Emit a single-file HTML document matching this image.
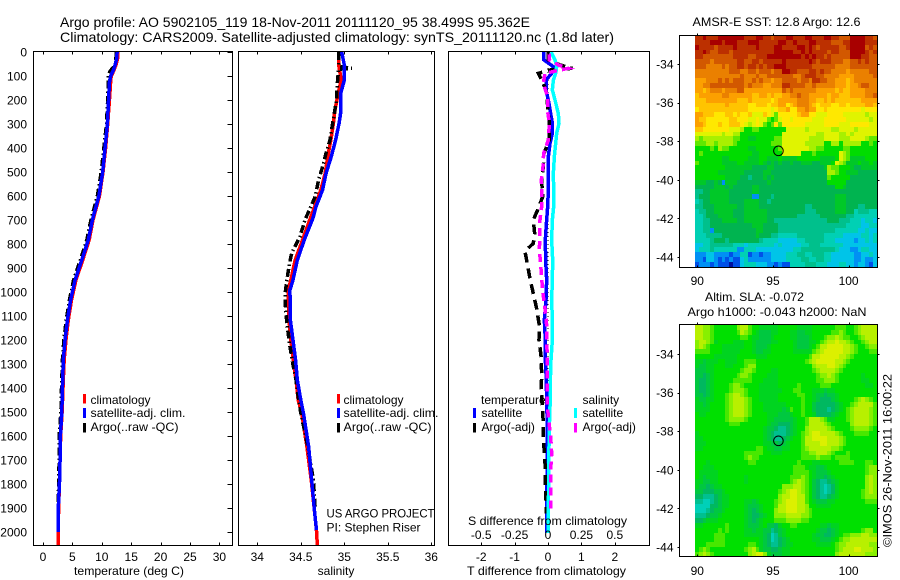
<!DOCTYPE html>
<html lang="en">
<head>
<meta charset="utf-8">
<title>Argo profile 5902105_119</title>
<style>
html,body{margin:0;padding:0;background:#fff;}
svg{display:block;font-family:"Liberation Sans",sans-serif;fill:#000;}
text{font-size:12px;}
.t14{font-size:14px;}
</style>
</head>
<body>
<svg id="fig" width="900" height="580" viewBox="0 0 900 580" xmlns="http://www.w3.org/2000/svg">
  <rect x="0" y="0" width="900" height="580" fill="#fff"/>
  <text class="t14" x="60" y="27" textLength="470" lengthAdjust="spacingAndGlyphs">Argo profile: AO 5902105_119 18-Nov-2011 20111120_95 38.499S 95.362E</text>
  <text class="t14" x="60" y="42" textLength="554" lengthAdjust="spacingAndGlyphs">Climatology: CARS2009. Satellite-adjusted climatology: synTS_20111120.nc (1.8d later)</text>

  <g id="map1"></g>
  <g id="map2"></g>
  <g id="panel1"></g>
  <g id="panel2"></g>
  <g id="panel3"></g>
  <g id="axes"></g>

  <text x="129" y="575" text-anchor="middle" textLength="110" lengthAdjust="spacingAndGlyphs">temperature (deg C)</text>
  <text x="336" y="575" text-anchor="middle">salinity</text>
  <text x="467" y="575" textLength="159" lengthAdjust="spacingAndGlyphs">T difference from climatology</text>
  <text x="468" y="525" textLength="159" lengthAdjust="spacingAndGlyphs">S difference from climatology</text>

  <g>
    <rect x="83" y="394" width="3" height="9.5" fill="#f00"/>
    <text x="90.5" y="404">climatology</text>
    <rect x="83" y="408" width="3" height="10" fill="#00f"/>
    <text x="90.5" y="417" textLength="95" lengthAdjust="spacingAndGlyphs">satellite-adj. clim.</text>
    <rect x="83" y="423" width="3" height="9.5" fill="#000"/>
    <text x="90.5" y="431" textLength="88" lengthAdjust="spacingAndGlyphs">Argo(..raw -QC)</text>
  </g>
  <g>
    <rect x="337" y="394" width="3" height="9.5" fill="#f00"/>
    <text x="343.5" y="404">climatology</text>
    <rect x="337" y="408" width="3" height="10" fill="#00f"/>
    <text x="343.5" y="417" textLength="95" lengthAdjust="spacingAndGlyphs">satellite-adj. clim.</text>
    <rect x="337" y="423" width="3" height="9.5" fill="#000"/>
    <text x="343.5" y="431" textLength="88" lengthAdjust="spacingAndGlyphs">Argo(..raw -QC)</text>
  </g>
  <text x="326.5" y="517.5" textLength="108" lengthAdjust="spacingAndGlyphs">US ARGO PROJECT</text>
  <text x="326.5" y="531.5">PI: Stephen Riser</text>

  <g>
    <text x="481" y="404">temperature</text>
    <rect x="473" y="408" width="3" height="10" fill="#00f"/>
    <text x="481.5" y="417">satellite</text>
    <rect x="473" y="423" width="3" height="9.5" fill="#000"/>
    <text x="481.5" y="431">Argo(-adj)</text>
    <text x="582.5" y="404">salinity</text>
    <rect x="574" y="408" width="3" height="10" fill="#0ff"/>
    <text x="582.5" y="417">satellite</text>
    <rect x="574" y="423" width="3" height="9.5" fill="#f0f"/>
    <text x="582.5" y="431">Argo(-adj)</text>
  </g>

  <text x="692.5" y="26" textLength="168" lengthAdjust="spacingAndGlyphs">AMSR-E SST: 12.8 Argo: 12.6</text>
  <text x="705" y="301" textLength="99" lengthAdjust="spacingAndGlyphs">Altim. SLA: -0.072</text>
  <text x="687.5" y="316" textLength="179" lengthAdjust="spacingAndGlyphs">Argo h1000: -0.043 h2000: NaN</text>
  <text transform="translate(891.5,547) rotate(-90)" textLength="173" lengthAdjust="spacingAndGlyphs">©IMOS 26-Nov-2011 16:00:22</text>
</svg>

<script>
// ---------- Chart data ----------
const depthTicks = [0,100,200,300,400,500,600,700,800,900,1000,1100,1200,1300,1400,1500,1600,1700,1800,1900,2000];
const tempTicks = [0,5,10,15,20,25,30];
const salTicks = [34,34.5,35,35.5,36];
const salTickLabels = ['34','34.5','35','35.5','36'];
const tDiffTicks = [-2,-1,0,1,2];
const sDiffTicks = [-0.5,-0.25,0,0.25,0.5];
const sDiffTickLabels = ['-0.5','-0.25','0','0.25','0.5'];
const lonTicks = [90,95,100];
const latTicks = [-34,-36,-38,-40,-42,-44];

const tempDepths = [0,25,54,80,100,125,200,300,400,500,600,700,783,867,950,1033,1117,1200,1283,1367,1400,1500,1600,1700,1800,1900,2000];
const tempSatellite = [12.6,12.55,12.25,11.9,11.5,11.3,11.15,10.95,10.55,10.15,9.5,8.4,7.7,6.6,5.45,4.7,4.15,3.75,3.45,3.35,3.3,3.2,2.95,2.9,2.8,2.6,2.6];
const tempArgo = [12.5,12.4,12.3,11.4,11.1,11.1,11.0,10.8,10.35,9.9,9.25,8.15,7.45,6.35,5.2,4.5,3.95,3.55,3.3,3.2,3.15,3.05,2.75,2.75,2.65,2.6,2.6];
const tempClimDepths = [0,25,54,80,100,125,200,300,400,500,600,700,783,867,950,1033,1117,1200,1283,1367,1400,1500,1600,1700,1800,1900,2000,2054];
const tempClim = [12.75,12.7,12.4,12.0,11.6,11.5,11.3,11.0,10.65,10.2,9.6,8.5,7.85,6.75,5.6,4.85,4.3,3.9,3.6,3.45,3.4,3.25,3.0,2.9,2.8,2.65,2.6,2.6];

const salDepths = [0,54,117,171,249,297,367,436,506,575,644,692,783,867,950,992,1117,1200,1283,1367,1450,1504,1644,1783,1922,1992];
const salSatellite = [34.97,35.0,35.0,34.96,34.96,34.94,34.9,34.85,34.79,34.75,34.675,34.64,34.54,34.46,34.41,34.375,34.38,34.41,34.44,34.46,34.5,34.53,34.59,34.625,34.66,34.68];
const salClimDepths = [0,54,117,171,249,297,367,436,506,575,644,692,783,867,950,992,1117,1200,1283,1367,1450,1504,1644,1783,1922,1992,2054];
const salClim = [34.94,34.935,34.965,34.93,34.89,34.875,34.845,34.81,34.78,34.73,34.66,34.61,34.52,34.435,34.385,34.355,34.365,34.385,34.415,34.445,34.47,34.51,34.57,34.62,34.66,34.68,34.69];
const salArgoDepths = [0,60,68,72,89,131,200,256,311,367,422,478,533,603,658,693,769,839,881,950,1006,1075,1144,1214,1283,1367,1436,1504,1644,1783,1900];
const salArgo = [34.935,34.94,35.085,34.93,34.93,34.92,34.91,34.885,34.86,34.835,34.79,34.75,34.705,34.665,34.6,34.555,34.49,34.395,34.37,34.34,34.32,34.325,34.345,34.37,34.4,34.445,34.47,34.5,34.58,34.645,34.665];

const diffDepths = [0,33,61,89,117,158,200,256,297,339,381,436,506,575,644,700,783,867,950,1033,1117,1200,1283,1367,1450,1506,1644,1783,1922,2005];
const tDiffSatellite = [-0.12,-0.12,0.16,0.11,-0.06,-0.06,0.01,0.08,0.13,0.13,0.06,0.01,0.01,0.01,-0.01,-0.04,-0.08,-0.07,-0.04,-0.06,-0.11,-0.08,-0.08,-0.05,-0.04,-0.03,-0.02,-0.03,-0.04,-0.04];
const sDiffSatellite = [0.0225,0.0525,0.065,0.0575,0.04,0.0325,0.0525,0.0775,0.0825,0.065,0.0575,0.0475,0.04,0.0425,0.0425,0.0325,0.0275,0.035,0.0325,0.0275,0.0325,0.0325,0.0225,0.0175,0.0175,0.0125,0.0075,0.005,0.0025,0];
const tDiffArgoDepths = [0,33,54,68,75,89,131,172,228,297,367,422,478,533,603,658,700,756,797,831,881,944,1006,1069,1139,1200,1264,1340,1403,1547,1603,1672,1734,1797,1867,1922];
const tDiffArgo = [0.01,0.01,0.36,0.73,0.06,-0.29,-0.14,-0.04,-0.01,0.04,0.04,-0.12,-0.14,-0.19,-0.16,-0.31,-0.44,-0.40,-0.44,-0.69,-0.62,-0.54,-0.44,-0.34,-0.26,-0.27,-0.21,-0.19,-0.2,-0.14,-0.14,-0.11,-0.08,-0.08,-0.06,-0.06];
const sDiffArgoDepths = [6,33,54,68,78,89,131,186,249,297,367,422,478,533,589,644,700,756,825,881,944,1006,1069,1139,1208,1271,1340,1410,1464,1520,1603,1672,1741,1811,1873,1922];
const sDiffArgo = [0.01,0.01,0.0775,0.1525,0.065,-0.0225,-0.035,-0.0025,-0.0025,0.01,0.0025,-0.0325,-0.0375,-0.05,-0.045,-0.0475,-0.06,-0.06,-0.065,-0.055,-0.0475,-0.0375,-0.0225,-0.01,-0.01,-0.005,-0.005,-0.005,-0.005,0.0025,0.02,0.0275,0.02,0.02,0.02,0.02];

const profileLat = -38.499;
const profileLon = 95.362;

const sstColors = {a:'#a80000',b:'#bc3000',c:'#d25800',d:'#ea8000',e:'#fca000',f:'#ffc400',g:'#ffe800',h:'#e0f400',i:'#a8f000',j:'#60e800',k:'#00dc00',l:'#00c828',m:'#00b450',n:'#00c08c',o:'#00d0b4',p:'#00c4e8',q:'#0090f4',r:'#0050e8',s:'#0010a0'};
const sstRows = [
"bbabbbaa aaaaabbb aabbcbbb aabbbaab bbaabbcc caaaabbc",
"bbbbaaab aaabbbaa abbbbbaa bbabbbaa bbbbcccb baaaabbb",
"abbbbcbb bbabbbbb abbbbaab bbbaabab cbbbbbcc baaaacbc",
"bbabccbb bcbbbbbb bbbbbaaa aabbabab bbbcbbcc caaaabcb",
"bbcccccc ccbbbbcc bbbaaaaa aaaababa bbcbcccc caaabbcc",
"ccccdccc cccbbccb bcbbbbba bbbbbbab cbbbcccd dccbcbcc",
"cccddddc dccbbcbb cbcbbaaa bbbbbbbc cccccddd dccccccc",
"dddddddd dcccddcc dcccdcca abbcccbb cbccdddd edddddcc",
"dddddddd ddddcddd cddccccc ccddcbbb ccddddee eedddddc",
"eeedddcd cdcccddc dcddeddc cccdccdb bccddeee fedddddd",
"eeddcccc cccccdcd ddeedddb bccccddc dddddeee feedccdd",
"eefeddde dddcceee eeeeeeec dcdddddd eeeeefef feeeeddd",
"feeeeeed deeeeeef feefeffe eddcddee eeefeeff feeeeddc",
"fffeeeee eeefffef ffffgfee eeedddee ffefefff ffffeeee",
"ffffffff efffffgg fffgffee gfedddef gfffggff gffffeef",
"gfffffff ffffffgg gggghgff eggeedee ggfggggg gggghggg",
"eefffggg ffgfggfh hhfghjgg gggfeegg hhhggggh hhhhhihh",
"effggggg gffggghh ghhjkjhg ghgggggh hhgggggg hhhhhhih",
"eefgggfg gfffghih ghjkjgjg ggggghhh hhgggghh hggggghh",
"ffgggggg ghhhikkj jkkkkkkk hhhhhihh hhhhiihh hhihhhhh",
"hhhhhhhi hhiikkkk kkkkkkkh hhhhhhhh iihhhhii hihhhhhh",
"ijiiiiii iijjkkll kkkkkjjh hhhhhhii iihhhhii ihhhhijj",
"jjjiijii iijkkkkk kkkkjjjh hhhhhiii iikkiiki iiiikkjk",
"kkkkjkij jkkkkkll kkkkkkjh hhhhhhii jjkkkkkj jkkkkkkk",
"kjkkkkkk kkkkkkkl lkkkkkkh hhhhkkkj kkkkkkhi jkkkkkkk",
"kkkkkkkl lkkkkkll lkklllkl lllkkkkk kllllkhi jllllkkk",
"jkkkkkkl lllkklll lklmlmlm mlmmlllm mlllkhij lllkllkl",
"kkkkkkkk lllllllm mmmllmmm mmmmmmmm mmlijjkk klmmllll",
"kkkkkkll lllllmmm mmllmmmm mmmmmmmm mmmiijkk lllmmmmm",
"kkkkkkkk llllmmnm mmlmlmmm mmmmmmmm mmmjkkkk kmmmmmmm",
"lllmmlmq lllmmmmm mmmlmmmm mmmmmmmm mmmkkkkk mmmmmmmm",
"mmmmmlll mlmmmmml lmmmmmmm mmmmmmmm mmmmmkkl mmmmmmmm",
"nnmmllll lmmmmmml lmmmmmmm mmmmmmmm mmmmmmmm mmmmmmmm",
"nmmmllll lmmmmmmq qmmmnmmm mmmmmmmm mmmmmlll mmmmmmmm",
"onmmllll lmmmmlll lmmnmmmm mmmmmmmm mmmmmlll mmmmmmmm",
"nnmmmlll lllmmlll lmmmmmmm mmmmmnnm mmmmmlll mmmnnmmm",
"onnmmlll llmmmlll lllmmmmm mmmmmnnn mmmmmlll mmonnnoo",
"oonmmmll llmmmlll lllmmmmm mmmnnnnn nmmmmmmm nnoooooo",
"oonnmmml lllmmlll lllmmnnn nnnnnnnn nnnmmmnn nooopoop",
"oonnmmmm mmmmmmml llmmmmnn nnnnnnnn nnnnnnnn ooooppoo",
"oonnqmmm mmmmmmmm llmmmmnn nnnnnnnn nnnnnooo oooppopp",
"ooonnnnm mmmmmmmm lmmmnnoo ooonnnnn nnooooop ppppoopo",
"oooonmmm nmmmmmmm mnoooopp pppoonnn nnoooppp ppqppopo",
"ppoonnnn nnooopoo ooooopop ppppoonn noooooop pppppppp",
"pooonooo oooqqooo pppppppp ppoonnnn nnnnnopp pqqpoopp",
"qqqppqqq qrqqoorq qrqqpppp ooonnoon nnoopppp ppqqppop",
"qqrppqrq rqrrpoqq qqqqpppp oooonnoo nnoopppp ppqqpqqp",
"rqqqrqrr rsrrpooo pppqqrqr roooonnn ooopppoo ppqppqrp"
];

const slaColors = {a:'#dcf000',b:'#b8f000',c:'#88f000',d:'#48e800',e:'#00e000',f:'#00d420',g:'#00c840',h:'#00b860',i:'#00c090',j:'#00d0b8'};
const slaRows = [
"bbccdeee eeecbbde efffffee eeeffffe eeeeeddd eedcbbbb",
"bbccdeee eeedbcde fgggffee effggffe eeeeddcd eedcbbbb",
"bbccdeee eeeeddef fgggfeee effgggfe eedccbcd deedcbbb",
"cbbcdfee eefffeef ggggffee eefgggff edcbbabb cdeedcbb",
"cbcdeeef fffffeef gggfeeee eefgggfe dbbaaaab bcdeedcc",
"ddddeeef ffffeeef ggffeeee eefffffd cbaaaaab bcdeeedd",
"eeeeefff fffeeeee fffeeeee eeeeeedb baaaaabb cdeeeeee",
"ffgfffee fffeeddd eeeeeeee eeeeedcb aaaaabbc deeeeeee",
"fggffeee ffeeedcc eeeeeeee eeeeeeec bbbaabcd eeeeeeee",
"gggffeee eeeedccd eeeeffee eeeeeeed cbbbbcde eeeeeeee",
"gghgfeee eeedccde eeefffee eeeeeeee dccbcdee eeeefeee",
"ghhgfeee eeddddde eeffffee eeeeeeee ddcccdee eeeeffee",
"ghhgfeee edccdeee efffffee eeedeeee edddeeee eeeeeffe",
"ghhgfeee edcccdee effffffe eeddeeef ffgffeee eeeeeeee",
"gghgfeee dcbbcdee efffffee eeeddeef gghggfee eeeeeeee",
"fggffeee dcbbbcde efffffee eeeedeef ghhhgfee eedcbcde",
"ffgfeeee dcbbbcde eeffffff eeeedeeg hhhhhgfe edcbbbbd",
"ffffeeee dcbbbcde eefffffg fdeedeeg hhhihgfe dcbbbbcd",
"effeeeee dcbbbcde eeefffgg gfeedeef hhhhgfee dcbbbbcd",
"eeeeeeee dccccdee eeeffggg ggfeedbb bcdffeee dcbbbbcd",
"eeeeeeee edddeeee eeefgghh hgfeedbb bbcdeeee ecbbbbcd",
"eeeeeeee eeeeeeee eefgghii hgfeecbb bbbcdeee edccccde",
"feeeeeee eeeeeeee eefghiii hgfedcba abbbbcde eeddddee",
"ffeeeeee eeeeeeee eefghiih gfeedbba aaabbbcd eeeeeeee",
"fffeeeee eeeeeeee eeffgghg feeedbbb baabbbcd eeeeeeee",
"ffeeeeee eeeeeeee ddeffggf feeedcbb bbbbccde eeeeeeee",
"eeeeeeee eeeeeddd ddeefffe eeeeddcc bbbcdeee deeeeeee",
"eeeeeeee eeeeedcd deeeeeee eeeedddd cdddeddd deeeeeee",
"eeefeeee eeeeeedd eeeeeeee eeedeeef feeeeedd ddeeedde",
"eefffeee eeeeeeee eeeeeeee eedddeff ggfeeeee eeeeedcc",
"efffffee eeeeeeee eeeeeeee eeddddef gggfeeee eeeeedcc",
"efgfffee eeeeefee eeeeeeee edddcdef gghgfeee eeeeecbc",
"ffggffee eeeeefee eeeeeeee edcbcdeg hiihgfee eeeeecbc",
"fgghgffe eeeeeeee eeeeeeec ccbbcdeg hijihfee eeeeecbc",
"gghhhggf eeeeeeee eeeeeedc baabcdeg hijihfee eeeedcbc",
"hhiiihgf feeeeeee eeeeeecb baabbdeg hiihgfee eeeedccc",
"iijjihgf feeeeffg feeeedcb aaabbdef gggffeee eeeeeddd",
"jjjjhhgf feeeefgg gfeeedbb aaabbcee ffffeeee eeeeeeee",
"jjjihggf eeeeefgh gfeeecbb aaabbcde eeeeeeee eeeeeeee",
"iiihggfe eeeeefgh hgfeeccc bbbbccde eeeeeeee eeeeeeee",
"hhgfffee eeeeefgh gfeeeddd ccccddee eeeeeeee eeeeeeee",
"ffeeeeee deeeefgg gfegghfe eddeeeee effgffee eeeeeeee",
"eeeeeede deeeeffg ffggihgf eeeeeeee fgghgfee eeeedcce",
"eeeeeddd eeeeefff ffghjigf eeeeeeef gghhgfed dcccbbcc",
"eeeeeddd eeeeeeee efghjihg feeeeeef fgggfedc cbbbbbbb",
"eeeddddd eeeeeedd efghiihg ffeeeeee ffffedcc bbbbbbcc",
"edcdeeee eeeeedcb dfgghhgf feeeeeee eeeeedcb bbaabbbc",
"dcbcdeee eeeeeecb aacfgggf feeeeeee eeeeecbb bbbbbccc"
];

// ---------- Axis functions ----------
const NS = 'http://www.w3.org/2000/svg';
function yDepth(d){ return 52 + d * 0.24; }
function xTemp(t){ return 43 + t * 5.88; }
function xSal(s){ return 257.3 + (s - 34) * 87; }
function xDiffT(v){ return 548 + v * 33.4; }
function xDiffS(v){ return 548 + v * 4 * 33.4; }
function xLon(lon){ return 697.3 + (lon - 90) * 15.13; }
function yLat1(lat){ return 64 + (-34 - lat) * 19.3; }
function yLat2(lat){ return 354 + (-34 - lat) * 19.3; }

function make(tag, parent){
  const el = document.createElementNS(NS, tag);
  parent.appendChild(el);
  return el;
}
function drawLine(parent, name, xs, ds, xFn, color, width, dash){
  const el = make('polyline', parent);
  
  
  el.setAttribute('points', xs.map(function(v, i){ return xFn(v).toFixed(2) + ',' + yDepth(ds[i]).toFixed(2); }).join(' '));
  el.setAttribute('fill', 'none');
  el.setAttribute('stroke', color);
  el.setAttribute('stroke-width', width);
  el.setAttribute('shape-rendering', 'crispEdges');
  if (dash) el.setAttribute('stroke-dasharray', dash);
}
function drawSeg(parent, name, x1, y1, x2, y2){
  const el = make('line', parent);
  
  
  el.setAttribute('x1', x1);
  el.setAttribute('y1', y1);
  el.setAttribute('x2', x2);
  el.setAttribute('y2', y2);
  el.setAttribute('stroke', '#000');
  el.setAttribute('stroke-width', 1);
  el.setAttribute('shape-rendering', 'crispEdges');
}
function drawLabel(parent, name, x, y, str, anchor){
  const el = make('text', parent);
  
  
  el.setAttribute('x', x);
  el.setAttribute('y', y);
  el.setAttribute('text-anchor', anchor);
  el.textContent = str;
}
function drawFrame(parent, name, l, t, r, b){
  const el = make('rect', parent);
  
  
  el.setAttribute('x', l);
  el.setAttribute('y', t);
  el.setAttribute('width', r - l);
  el.setAttribute('height', b - t);
  el.setAttribute('fill', 'none');
  el.setAttribute('stroke', '#000');
  el.setAttribute('stroke-width', 1);
  el.setAttribute('shape-rendering', 'crispEdges');
}
function drawMap(parent, rows, colors, yLat){
  const lon0 = 89.85, lat0 = -32.5, step = 0.25;
  rows.forEach(function(row, r){
    const cells = row.replace(/ /g, '');
    for (let c = 0; c < cells.length; c++){
      const x0 = Math.round(xLon(lon0 + c * step));
      const x1 = Math.round(xLon(lon0 + (c + 1) * step));
      const y0 = Math.round(yLat(lat0 - r * step));
      const y1 = Math.round(yLat(lat0 - (r + 1) * step));
      const el = make('rect', parent);
      
      
      el.setAttribute('x', x0);
      el.setAttribute('y', y0);
      el.setAttribute('width', x1 - x0);
      el.setAttribute('height', y1 - y0);
      el.setAttribute('fill', colors[cells[c]]);
      el.setAttribute('shape-rendering', 'crispEdges');
    }
  });
}

// ---------- Series ----------
const p1 = document.getElementById('panel1');
drawLine(p1, 'temperature-climatology-line', tempClim, tempClimDepths, xTemp, '#f00', 3.5);
drawLine(p1, 'temperature-argo-line', tempArgo, tempDepths, xTemp, '#000', 3.5, '8 3 1.5 3');
drawLine(p1, 'temperature-satellite-line', tempSatellite, tempDepths, xTemp, '#00f', 3.5);

const p2 = document.getElementById('panel2');
drawLine(p2, 'salinity-climatology-line', salClim, salClimDepths, xSal, '#f00', 3.5);
drawLine(p2, 'salinity-argo-line', salArgo, salArgoDepths, xSal, '#000', 3.5, '8 3 1.5 3');
drawLine(p2, 'salinity-satellite-line', salSatellite, salDepths, xSal, '#00f', 3.5);

const p3 = document.getElementById('panel3');
drawLine(p3, 'zero-difference-line', diffDepths.map(function(){ return 0; }), diffDepths, xDiffT, '#000', 1, '1 3');
drawLine(p3, 'temperature-difference-satellite-line', tDiffSatellite, diffDepths, xDiffT, '#00f', 3.5);
drawLine(p3, 'temperature-difference-argo-line', tDiffArgo, tDiffArgoDepths, xDiffT, '#000', 3.5, '10 6');
drawLine(p3, 'salinity-difference-satellite-line', sDiffSatellite, diffDepths, xDiffS, '#0ff', 3.5);
drawLine(p3, 'salinity-difference-argo-line', sDiffArgo, sDiffArgoDepths, xDiffS, '#f0f', 3.5, '8 5');

// ---------- Maps ----------
const m1 = document.getElementById('map1');
const m2 = document.getElementById('map2');
drawMap(m1, sstRows, sstColors, yLat1);
drawMap(m2, slaRows, slaColors, yLat2);

// ---------- Axes ----------
const ax = document.getElementById('axes');
const TOP = 51.5, BOT = 545.5;
drawFrame(ax, 'temperature-panel-frame', 33.5, TOP, 232.5, BOT);
drawFrame(ax, 'salinity-panel-frame', 238.5, TOP, 434.5, BOT);
drawFrame(ax, 'difference-panel-frame', 448.5, TOP, 649.5, BOT);

depthTicks.forEach(function(d){
  const y = Math.round(yDepth(d)) + 0.5;
  drawSeg(ax, 'depth-tick', 227.5, y, 232.5, y);
  drawLabel(ax, 'depth-tick-label', 27, yDepth(d) + 4.5, String(d), 'end');
});
tempTicks.forEach(function(t){
  const x = Math.round(xTemp(t)) + 0.5;
  drawSeg(ax, 'temperature-tick-top', x, TOP, x, TOP + 3);
  drawSeg(ax, 'temperature-tick-bottom', x, BOT - 3, x, BOT);
  drawLabel(ax, 'temperature-tick-label', xTemp(t), 561, String(t), 'middle');
});
salTicks.forEach(function(s, i){
  const x = Math.round(xSal(s)) + 0.5;
  drawSeg(ax, 'salinity-tick-top', x, TOP, x, TOP + 3);
  drawSeg(ax, 'salinity-tick-bottom', x, BOT - 3, x, BOT);
  drawLabel(ax, 'salinity-tick-label', xSal(s), 561, salTickLabels[i], 'middle');
});
tDiffTicks.forEach(function(t){
  const x = Math.round(xDiffT(t)) + 0.5;
  drawSeg(ax, 't-difference-tick-top', x, TOP, x, TOP + 3);
  drawSeg(ax, 't-difference-tick-bottom', x, BOT - 3, x, BOT);
  drawLabel(ax, 't-difference-tick-label', xDiffT(t), 561, String(t), 'middle');
});
sDiffTicks.forEach(function(s, i){
  drawLabel(ax, 's-difference-tick-label', xDiffS(s), 539, sDiffTickLabels[i], 'middle');
});

drawFrame(ax, 'sst-map-frame', 679.5, 35.5, 877.5, 267.5);
drawFrame(ax, 'sla-map-frame', 679.5, 324.5, 877.5, 556.5);
[[35.5, 267.5, yLat1, 285, 'sst'], [324.5, 556.5, yLat2, 575, 'sla']].forEach(function(m){
  lonTicks.forEach(function(lon){
    const x = Math.round(xLon(lon)) + 0.5;
    drawSeg(ax, m[4] + '-lon-tick-top', x, m[0] - 2, x, m[0]);
    drawSeg(ax, m[4] + '-lon-tick-bottom', x, m[1] - 2, x, m[1]);
    drawLabel(ax, m[4] + '-lon-tick-label', xLon(lon), m[3], String(lon), 'middle');
  });
  latTicks.forEach(function(lat){
    const y = Math.round(m[2](lat)) + 0.5;
    drawSeg(ax, m[4] + '-lat-tick-left', 677.5, y, 679.5, y);
    drawSeg(ax, m[4] + '-lat-tick-right', 877.5, y, 879.5, y);
    drawLabel(ax, m[4] + '-lat-tick-label', 673.5, m[2](lat) + 4.5, String(lat), 'end');
  });
  const marker = make('circle', ax);
  
  
  marker.setAttribute('cx', xLon(profileLon));
  marker.setAttribute('cy', m[2](profileLat));
  marker.setAttribute('r', 4.8);
  marker.setAttribute('fill', 'none');
  marker.setAttribute('stroke', '#000');
  marker.setAttribute('stroke-width', 1);
});
</script>
</body>
</html>
